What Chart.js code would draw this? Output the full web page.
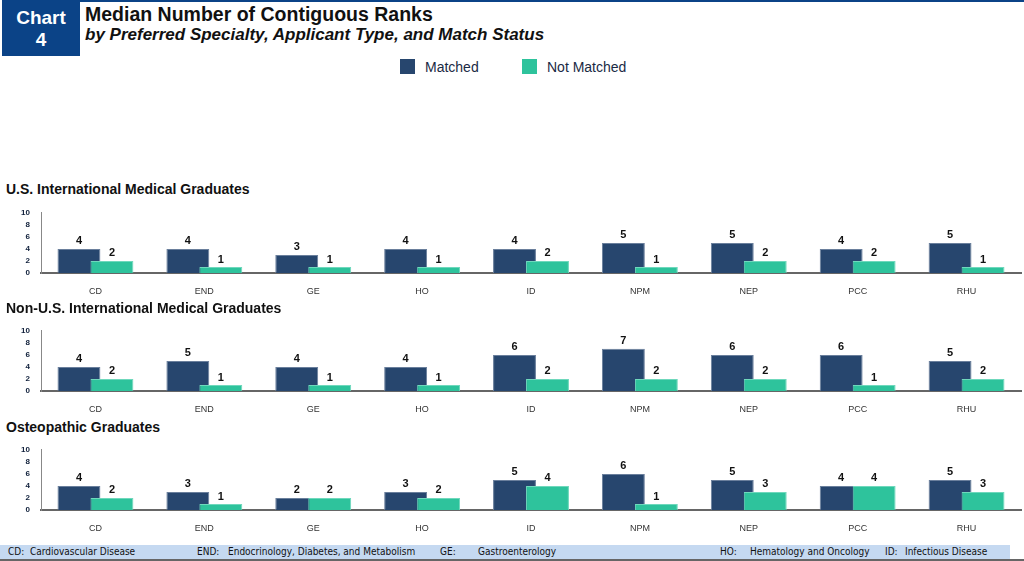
<!DOCTYPE html>
<html>
<head>
<meta charset="utf-8">
<script src="https://cdn.jsdelivr.net/npm/chart.js@4"></script>
<style>
  body { margin: 0; width: 1024px; height: 561px; background: #fff; position: relative; overflow: hidden; font-family: "Liberation Sans", Arial, sans-serif; }
  .box { position: absolute; left: 2px; top: 0; width: 78px; height: 56px; background: #0b4387; color: #fff; font-weight: bold; font-size: 19px; text-align: center; line-height: 22px; padding-top: 7px; box-sizing: border-box; }
  .topline { position: absolute; left: 80px; top: 0; right: 0; height: 2px; background: #0b4387; }
  .title { position: absolute; left: 85px; top: 3px; font-size: 19.5px; font-weight: bold; color: #111; }
  .subtitle { position: absolute; left: 85px; top: 25px; font-size: 17px; font-weight: bold; font-style: italic; color: #111; }
  .legend { position: absolute; top: 59px; left: 400px; font-size: 14px; color: #1a2a44; }
  .legend span.item { position: absolute; white-space: nowrap; }
  .legend i { display: inline-block; width: 15px; height: 15px; vertical-align: -2px; margin-right: 10px; }
  .ptitle { position: absolute; left: 6px; font-size: 14px; font-weight: bold; color: #111; }
  canvas { position: absolute; left: 0; }
  .foot { position: absolute; left: 0; top: 545px; width: 1010px; height: 14px; background: #c5d9f1; font-family: "Liberation Sans Narrow", "DejaVu Sans Condensed", sans-serif; font-size: 10px; color: #111; }
  .foot span { position: absolute; top: 1px; white-space: nowrap; }
  .footline { position: absolute; left: 0; top: 559px; width: 1024px; height: 2px; background: #666; }
</style>
</head>
<body>
<div class="box">Chart<br>4</div>
<div class="topline"></div>
<div class="title">Median Number of Contiguous Ranks</div>
<div class="subtitle">by Preferred Specialty, Applicant Type, and Match Status</div>
<div class="legend" id="legend"></div>

<div class="ptitle" style="top:181px">U.S. International Medical Graduates</div>
<canvas id="c1" width="1024" height="104" style="top:197px"></canvas>
<div class="ptitle" style="top:300px">Non-U.S. International Medical Graduates</div>
<canvas id="c2" width="1024" height="104" style="top:315px"></canvas>
<div class="ptitle" style="top:419px">Osteopathic Graduates</div>
<canvas id="c3" width="1024" height="104" style="top:434px"></canvas>

<div class="foot">
  <span style="left:8px">CD:</span><span style="left:30px">Cardiovascular Disease</span>
  <span style="left:197px">END:</span><span style="left:228px">Endocrinology, Diabetes, and Metabolism</span>
  <span style="left:440px">GE:</span><span style="left:478px">Gastroenterology</span>
  <span style="left:720px">HO:</span><span style="left:750px">Hematology and Oncology</span>
  <span style="left:885px">ID:</span><span style="left:905px">Infectious Disease</span>
</div>
<div class="footline"></div>

<script>
const categories = ["CD", "END", "GE", "HO", "ID", "NPM", "NEP", "PCC", "RHU"];
const seriesNames = ["Matched", "Not Matched"];
const yTicks = [0, 2, 4, 6, 8, 10];

const usImgMatched = [4, 4, 3, 4, 4, 5, 5, 4, 5];
const usImgNotMatched = [2, 1, 1, 1, 2, 1, 2, 2, 1];
const nonUsImgMatched = [4, 5, 4, 4, 6, 7, 6, 6, 5];
const nonUsImgNotMatched = [2, 1, 1, 1, 2, 2, 2, 1, 2];
const osteoMatched = [4, 3, 2, 3, 5, 6, 5, 4, 5];
const osteoNotMatched = [2, 1, 2, 2, 4, 1, 3, 4, 3];

const colors = ["#27466e", "#2ec39c"];
const borders = ["#6a7f9c", "#6fd8bc"];

// legend
const legend = document.getElementById("legend");
seriesNames.forEach((name, i) => {
  const s = document.createElement("span");
  s.className = "item";
  s.style.left = (i * 122) + "px";
  s.innerHTML = '<i style="background:' + colors[i] + '"></i>' + name;
  legend.appendChild(s);
});

// draw datasets in forward order so Not Matched sits on top, then value labels
const drawBars = {
  id: "drawBars",
  beforeDatasetsDraw(chart) {
    const ctx = chart.ctx;
    const metas = chart.getSortedVisibleDatasetMetas();
    metas.forEach(m => m.controller.draw());
    ctx.save();
    ctx.font = "bold 11px 'Liberation Sans', Arial, sans-serif";
    ctx.fillStyle = "#111";
    ctx.textAlign = "center";
    ctx.textBaseline = "bottom";
    metas.forEach(m => {
      const ds = chart.data.datasets[m.index];
      m.data.forEach((el, j) => {
        ctx.fillText(ds.data[j], el.x, el.y - 2);
      });
    });
    ctx.restore();
    return false;
  }
};

const makePanel = (id, matched, notMatched) => {
  new Chart(document.getElementById(id), {
    type: "bar",
    data: {
      labels: categories,
      datasets: [
        { label: seriesNames[0], data: matched, backgroundColor: colors[0], borderColor: borders[0], borderWidth: 1 },
        { label: seriesNames[1], data: notMatched, backgroundColor: colors[1], borderColor: borders[1], borderWidth: 1 },
      ],
    },
    options: {
      responsive: false,
      animation: false,
      events: [],
      categoryPercentage: 0.606,
      barPercentage: 1.3,
      layout: { padding: { top: 0, right: 3, left: 0, bottom: 0 } },
      plugins: { legend: { display: false }, tooltip: { enabled: false } },
      scales: {
        x: {
          grid: { display: false, drawTicks: false },
          border: { display: true, color: "#666", width: 2 },
          ticks: { padding: 13, color: "#333", font: { size: 9, family: "'Liberation Sans', Arial" } },
          afterFit: s => { s.height = 28; },
        },
        y: {
          min: 0,
          max: 10,
          afterBuildTicks: s => { s.ticks = yTicks.map(v => ({ value: v })); },
          grid: { display: false, drawTicks: false },
          border: { display: true, color: "#888", width: 1 },
          ticks: { autoSkip: false, padding: 11, color: "#0f1f3a", font: { size: 8, weight: "bold", family: "'Liberation Sans', Arial" } },
          afterFit: s => { s.width = 41; },
        },
      },
    },
    plugins: [drawBars],
  });
};

makePanel("c1", usImgMatched, usImgNotMatched);
makePanel("c2", nonUsImgMatched, nonUsImgNotMatched);
makePanel("c3", osteoMatched, osteoNotMatched);
</script>
</body>
</html>
